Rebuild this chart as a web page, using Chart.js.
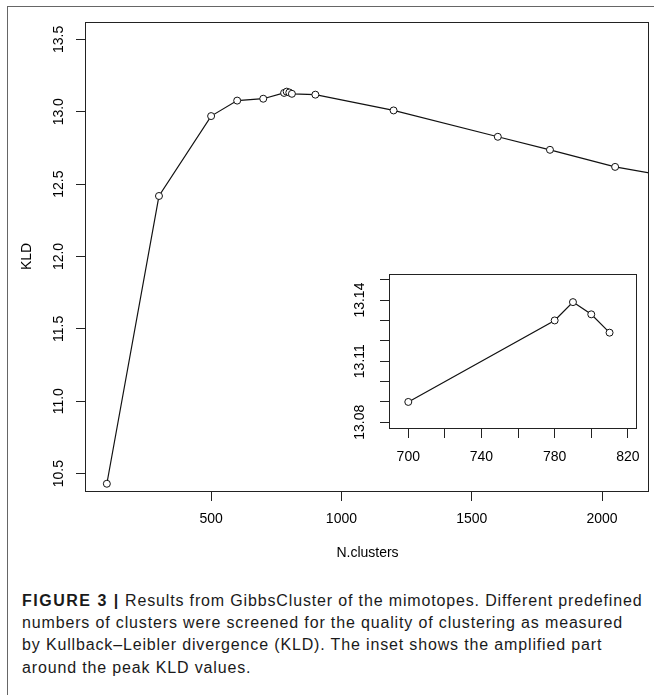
<!DOCTYPE html>
<html>
<head>
<meta charset="utf-8">
<script src="https://cdn.jsdelivr.net/npm/chart.js@4"></script>
<style>
  html, body { margin: 0; padding: 0; background: #fff; }
  body { width: 654px; height: 695px; position: relative; overflow: hidden; font-family: "Liberation Sans", Arial, sans-serif; }
  #frame { position: absolute; left: 7px; top: 6px; width: 700px; height: 720px; border-left: 1px solid #666; border-top: 1px solid #666; }
  #mainWrap { position: absolute; left: 0; top: 0; width: 654px; height: 575px; }
  #insetWrap { position: absolute; left: 330px; top: 260px; width: 320px; height: 215px; }
  #caption { position: absolute; left: 22px; top: 590px; font-size: 16px; line-height: 22.2px; letter-spacing: 0.85px; color: #1a1a1a; white-space: nowrap; }
  #caption b { letter-spacing: 1.5px; }
</style>
</head>
<body>
<div id="frame"></div>
<div id="mainWrap"><canvas id="mainChart" width="654" height="575"></canvas></div>
<div id="insetWrap"><canvas id="insetChart" width="320" height="215"></canvas></div>
<div id="caption"><b>FIGURE 3 |</b> Results from GibbsCluster of the mimotopes. Different predefined<br>numbers of clusters were screened for the quality of clustering as measured<br>by Kullback–Leibler divergence (KLD). The inset shows the amplified part<br>around the peak KLD values.</div>
<script>
const clusters = [100, 300, 500, 600, 700, 780, 790, 800, 810, 900, 1200, 1600, 1800, 2050, 2300];
const kld = [10.43, 12.418, 12.97, 13.077, 13.090, 13.130, 13.139, 13.133, 13.124, 13.118, 13.009, 12.827, 12.737, 12.619, 12.54];

const mainXTicks = [500, 1000, 1500, 2000];
const mainYTicks = [10.5, 11.0, 11.5, 12.0, 12.5, 13.0, 13.5];

// inset zooms on the peak
const insetFrom = 700, insetTo = 810;
const insetXTicks = [700, 720, 740, 760, 780, 800, 820];
const insetXLabels = [700, 740, 780, 820];
const insetYTicks = [13.08, 13.09, 13.10, 13.11, 13.12, 13.13, 13.14, 13.15];
const insetYLabels = [13.08, 13.11, 13.14];

Chart.defaults.font.family = '"Liberation Sans", Arial, sans-serif';
Chart.defaults.font.size = 14;
Chart.defaults.color = "#000";

const points = clusters.map((c, i) => ({ x: c, y: kld[i] }));
const insetPoints = points.filter(p => p.x >= insetFrom && p.x <= insetTo);

// R style box round the plot region
const boxPlugin = {
  id: "box",
  afterDraw(chart) {
    const { ctx, chartArea: a } = chart;
    ctx.save();
    ctx.strokeStyle = "#222";
    ctx.lineWidth = 1;
    ctx.strokeRect(Math.round(a.left) - 0.5, Math.round(a.top) + 0.5, Math.round(a.right - a.left), Math.round(a.bottom - a.top));
    ctx.restore();
  }
};

function fixWidth(w) {
  return s => { s.width = w; s.paddingTop = 0; s.paddingBottom = 0; };
}
function fixHeight(h) {
  return s => { s.height = h; s.paddingLeft = 0; s.paddingRight = 0; };
}
function setTicks(values) {
  return s => { s.ticks = values.map(v => ({ value: v })); };
}

const lineStyle = {
  borderColor: "#111",
  borderWidth: 1.2,
  tension: 0,
  pointRadius: 3.5,
  pointBorderWidth: 1,
  pointBorderColor: "#111",
  pointBackgroundColor: "#fff",
  fill: false
};

const baseOpts = {
  responsive: false,
  animation: false,
  events: [],
  plugins: { legend: { display: false }, tooltip: { enabled: false } }
};

const tickGrid = { display: true, drawOnChartArea: false, drawTicks: true, tickLength: 10, color: "#222", lineWidth: 1 };

new Chart(document.getElementById("mainChart"), {
  type: "line",
  data: { datasets: [Object.assign({ data: points }, lineStyle)] },
  options: Object.assign({}, baseOpts, {
    layout: { padding: { top: 22, right: 3, left: 0, bottom: 0 } },
    scales: {
      x: {
        type: "linear", min: 20, max: 2180,
        border: { display: false },
        grid: tickGrid,
        afterBuildTicks: setTicks(mainXTicks),
        ticks: { autoSkip: false, padding: 9.5, maxRotation: 0, callback: v => String(v) },
        title: { display: true, text: "N.clusters", padding: { top: 0, bottom: 13 }, font: { size: 14 } },
        afterFit: fixHeight(84)
      },
      y: {
        type: "linear", min: 10.38, max: 13.62,
        border: { display: false },
        grid: tickGrid,
        afterBuildTicks: setTicks(mainYTicks),
        ticks: { autoSkip: false, padding: 3, minRotation: 90, maxRotation: 90, crossAlign: "center", callback: v => v.toFixed(1) },
        title: { display: true, text: "KLD", padding: { top: 18.6, bottom: 0 }, font: { size: 14 } },
        afterFit: fixWidth(86)
      }
    }
  }),
  plugins: [boxPlugin]
});

new Chart(document.getElementById("insetChart"), {
  type: "line",
  data: { datasets: [Object.assign({ data: insetPoints }, lineStyle)] },
  options: Object.assign({}, baseOpts, {
    layout: { padding: { top: 14, right: 13, left: 0, bottom: 0 } },
    scales: {
      x: {
        type: "linear", min: 690, max: 825,
        border: { display: false },
        grid: tickGrid,
        afterBuildTicks: setTicks(insetXTicks),
        ticks: { autoSkip: false, padding: 10.5, maxRotation: 0,
          callback: v => insetXLabels.includes(v) ? String(v) : "" },
        afterFit: fixHeight(47)
      },
      y: {
        type: "linear", min: 13.0772, max: 13.1528,
        border: { display: false },
        grid: tickGrid,
        afterBuildTicks: setTicks(insetYTicks),
        ticks: { autoSkip: false, padding: 2, minRotation: 90, maxRotation: 90, crossAlign: "center",
          callback: v => insetYLabels.includes(v) ? v.toFixed(2) : "" },
        afterFit: fixWidth(60)
      }
    }
  }),
  plugins: [boxPlugin]
});
</script>
</body>
</html>
